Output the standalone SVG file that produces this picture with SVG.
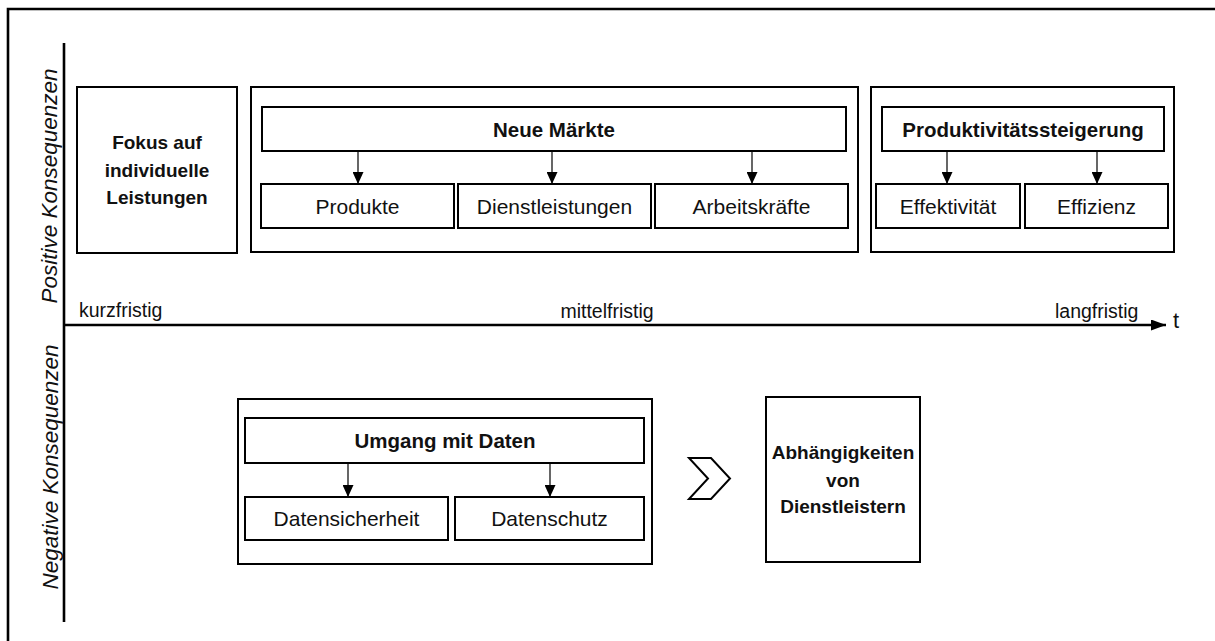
<svg xmlns="http://www.w3.org/2000/svg" width="1215" height="641" viewBox="0 0 1215 641">
<style>
.box{fill:#fff;stroke:#000;stroke-width:2}
.ln{stroke:#000;stroke-width:1.2;fill:none}
.ax{stroke:#000;stroke-width:2.6;fill:none}
text{font-family:"Liberation Sans",Arial,sans-serif;fill:#111}
.b{font-weight:bold;font-size:20.5px;text-anchor:middle}
.bs{font-weight:bold;font-size:19px;text-anchor:middle}
.r{font-size:21px;text-anchor:middle}
.lab{font-size:19.5px}
.side{font-style:italic;font-size:22.5px;text-anchor:middle}
</style>
<defs>
<marker id="ah" markerWidth="12" markerHeight="11" refX="12" refY="5.5" orient="auto" markerUnits="userSpaceOnUse">
<path d="M0,0 L12,5.5 L0,11 Z" fill="#000"/>
</marker>
<marker id="axh" markerWidth="15" markerHeight="11" refX="15" refY="5.5" orient="auto" markerUnits="userSpaceOnUse">
<path d="M0,0 L15,5.5 L0,11 Z" fill="#000"/>
</marker>
</defs>
<rect width="1215" height="641" fill="#fff"/>
<path d="M8,641 V9 H1215" class="ax" stroke-width="2.2"/>
<g id="axes">
<line x1="64" y1="43" x2="64" y2="622" class="ax"/>
<line x1="63" y1="325" x2="1166" y2="325" class="ax" marker-end="url(#axh)"/>
<text x="1173" y="328" style="font-size:22px">t</text>
<text x="79" y="317" class="lab">kurzfristig</text>
<text x="607" y="318" class="lab" text-anchor="middle">mittelfristig</text>
<text x="1055" y="318" class="lab">langfristig</text>
<text class="side" transform="translate(57,186) rotate(-90)">Positive Konsequenzen</text>
<text class="side" transform="translate(58,467) rotate(-90)">Negative Konsequenzen</text>
</g>
<g id="fokus">
<rect x="77" y="87" width="160" height="166" class="box"/>
<text x="157" y="149" class="bs">Fokus auf</text>
<text x="157" y="177" class="bs">individuelle</text>
<text x="157" y="204" class="bs">Leistungen</text>
</g>
<g id="neue-maerkte">
<rect x="251" y="87" width="607" height="165" class="box"/>
<rect x="262" y="107" width="584" height="44" class="box"/>
<text x="554" y="136.5" class="b">Neue Märkte</text>
</g>
<g id="produkte"><rect x="261" y="184" width="193" height="44" class="box"/><text x="357.5" y="213.5" class="r">Produkte</text></g>
<g id="dienstleistungen"><rect x="458" y="184" width="193" height="44" class="box"/><text x="554.5" y="213.5" class="r">Dienstleistungen</text></g>
<g id="arbeitskraefte"><rect x="655" y="184" width="193" height="44" class="box"/><text x="751.5" y="213.5" class="r">Arbeitskräfte</text></g>
<g id="produktivitaet">
<rect x="871" y="87" width="303" height="165" class="box"/>
<rect x="882" y="107" width="282" height="44" class="box"/>
<text x="1023" y="136.5" class="b">Produktivitätssteigerung</text>
</g>
<g id="effektivitaet"><rect x="876" y="184" width="144" height="44" class="box"/><text x="948" y="213.5" class="r">Effektivität</text></g>
<g id="effizienz"><rect x="1025" y="184" width="143" height="44" class="box"/><text x="1096.5" y="213.5" class="r">Effizienz</text></g>
<g id="umgang">
<rect x="238" y="399" width="414" height="165" class="box"/>
<rect x="245" y="418" width="399" height="45" class="box"/>
<text x="445" y="448" class="b">Umgang mit Daten</text>
</g>
<g id="datensicherheit"><rect x="245" y="497" width="203" height="43" class="box"/><text x="346.5" y="526" class="r">Datensicherheit</text></g>
<g id="datenschutz"><rect x="455" y="497" width="189" height="43" class="box"/><text x="549.5" y="526" class="r">Datenschutz</text></g>
<g id="chevron">
<polygon points="689,458 711,458 730,478.5 711,499 689,499 708,478.5" fill="#fff" stroke="#000" stroke-width="2"/>
</g>
<g id="abhaengigkeiten">
<rect x="766" y="397" width="154" height="165" class="box"/>
<text x="843" y="459" class="bs">Abhängigkeiten</text>
<text x="843" y="487" class="bs">von</text>
<text x="843" y="513" class="bs">Dienstleistern</text>
</g>
<g id="connectors">
<line x1="358" y1="152" x2="358" y2="184" class="ln" marker-end="url(#ah)"/>
<line x1="552" y1="152" x2="552" y2="184" class="ln" marker-end="url(#ah)"/>
<line x1="752" y1="152" x2="752" y2="184" class="ln" marker-end="url(#ah)"/>
<line x1="947" y1="152" x2="947" y2="184" class="ln" marker-end="url(#ah)"/>
<line x1="1097" y1="152" x2="1097" y2="184" class="ln" marker-end="url(#ah)"/>
<line x1="348" y1="464" x2="348" y2="497" class="ln" marker-end="url(#ah)"/>
<line x1="550" y1="464" x2="550" y2="497" class="ln" marker-end="url(#ah)"/>
</g>
</svg>
